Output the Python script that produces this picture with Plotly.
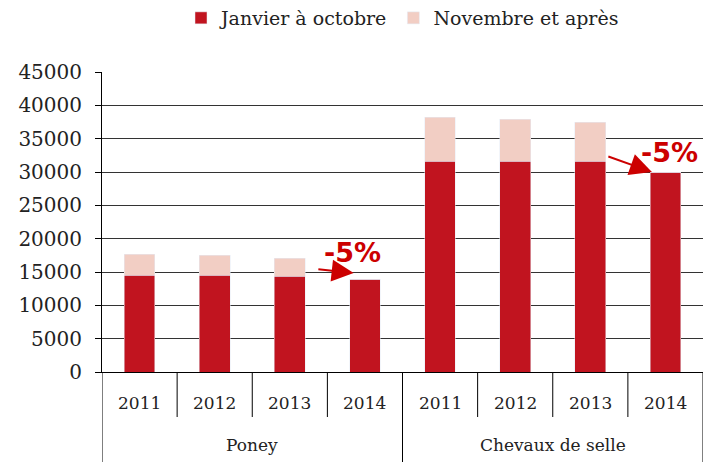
import plotly.graph_objects as go

groups = ["Poney"] * 4 + ["Chevaux de selle"] * 4
years = ["2011", "2012", "2013", "2014"] * 2
group_names = ["Poney", "Chevaux de selle"]
jan_oct = [14550, 14550, 14400, 13950, 31650, 31650, 31600, 30000]
nov_plus = [3150, 3000, 2700, 0, 6600, 6300, 5900, 0]
y_ticks = list(range(0, 45001, 5000))

RED = "#C1141F"
PINK = "#F2CEC4"
ANN = "#CC0000"
FONT = "DejaVu Serif"

fig = go.Figure()
fig.add_trace(go.Bar(x=[groups, years], y=jan_oct, name="Janvier à octobre",
                     marker_color=RED, width=0.41))
fig.add_trace(go.Bar(x=[groups, years], y=nov_plus, name="Novembre et après",
                     marker_color=PINK, width=0.41))

# separators under the axis (category boundaries)
shapes = []
for b in [0.5, 1.5, 2.5, 4.5, 5.5, 6.5]:
    shapes.append(dict(type="line", xref="x", yref="paper", x0=b, x1=b,
                       y0=0, y1=-0.15, line=dict(color="black", width=1)))
for b in [-0.5, 3.5, 7.5]:
    shapes.append(dict(type="line", xref="x", yref="paper", x0=b, x1=b,
                       y0=0, y1=-0.31, line=dict(color="black", width=1)))

annotations = []
for i, yr in enumerate(years):
    annotations.append(dict(x=i, y=-0.103, xref="x", yref="paper", text=yr,
                            xanchor="center", yanchor="middle",
                            showarrow=False, font=dict(family=FONT, size=17, color="#222")))
for j, g in enumerate(group_names):
    annotations.append(dict(x=1.5 + 4 * j, y=-0.243, xref="x", yref="paper", text=g,
                            xanchor="center", yanchor="middle",
                            showarrow=False, font=dict(family=FONT, size=17, color="#222")))

annotations += [
    dict(x=2.85, y=14850, ax=2.36, ay=15450, xref="x", yref="y", axref="x", ayref="y",
         showarrow=True, arrowhead=2, arrowsize=2.2, arrowwidth=2, arrowcolor=ANN, text=""),
    dict(x=6.82, y=30000, ax=6.22, ay=32400, xref="x", yref="y", axref="x", ayref="y",
         showarrow=True, arrowhead=2, arrowsize=2.2, arrowwidth=2, arrowcolor=ANN, text=""),
    dict(x=2.84, y=18000, xref="x", yref="y", text="<b>-5%</b>", showarrow=False,
         xanchor="center", yanchor="middle",
         font=dict(family="DejaVu Sans", size=27, color=ANN)),
    dict(x=7.06, y=33000, xref="x", yref="y", text="<b>-5%</b>", showarrow=False,
         xanchor="center", yanchor="middle",
         font=dict(family="DejaVu Sans", size=27, color=ANN)),
]

fig.update_layout(
    barmode="stack",
    width=711, height=462,
    margin=dict(l=102, r=8, t=72, b=90, autoexpand=False),
    paper_bgcolor="white", plot_bgcolor="white",
    font=dict(family=FONT, size=17, color="#222"),
    legend=dict(orientation="h", x=0.5, xanchor="center", y=1.18, yanchor="middle",
                font=dict(family=FONT, size=19), itemwidth=30, traceorder="normal"),
    shapes=shapes,
    annotations=annotations,
    xaxis=dict(type="multicategory", range=[-0.5, 7.5], showline=True,
               linecolor="black", linewidth=1,
               showticklabels=False, ticks="", showdividers=False, showgrid=False,
               automargin=False),
    yaxis=dict(range=[0, 45000], tickvals=y_ticks, ticktext=[str(v) for v in y_ticks],
               tickfont=dict(size=20), automargin=False, ticklabelstandoff=9,
               showline=True, linecolor="black", linewidth=1, ticks="outside",
               ticklen=6, tickcolor="black", showgrid=True, gridcolor="#333",
               gridwidth=1, zeroline=False),
    bargap=0.59,
)

fig.write_html("out.html", config={"displayModeBar": False},
               post_script="document.body.style.margin='0';document.body.style.overflow='hidden';")
